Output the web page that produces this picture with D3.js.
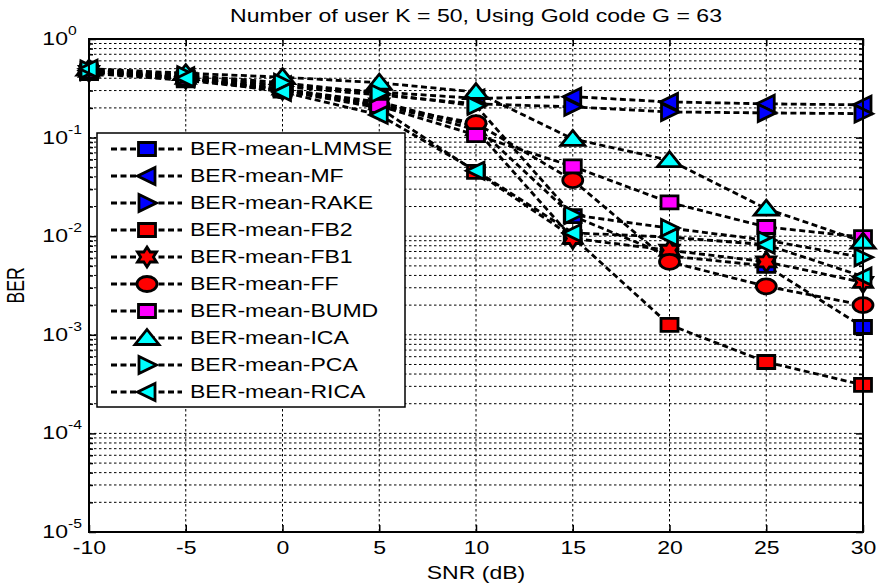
<!DOCTYPE html>
<html>
<head>
<meta charset="utf-8">
<script src="https://cdn.jsdelivr.net/npm/d3@7"></script>
<style>
  html, body { margin: 0; padding: 0; background: #fff; }
  svg { display: block; font-family: "Liberation Sans", Arial, Helvetica, sans-serif; }
</style>
</head>
<body>
<svg id="chart" width="886" height="584"></svg>
<script>
// SNR values (dB) and mean BER per receiver
const snr = [-10, -5, 0, 5, 10, 15, 20, 25, 30];
const berLMMSE = [0.46, 0.40, 0.31, 0.23, 0.13, 0.016, 0.0063, 0.0050, 0.0012];
const berMF    = [0.48, 0.42, 0.34, 0.29, 0.25, 0.26, 0.23, 0.22, 0.215];
const berRAKE  = [0.47, 0.41, 0.33, 0.27, 0.22, 0.205, 0.182, 0.178, 0.175];
const berFB2   = [0.45, 0.38, 0.30, 0.20, 0.045, 0.0098, 0.00126, 0.00053, 0.00031];
const berFB1   = [0.47, 0.40, 0.31, 0.22, 0.12, 0.0095, 0.0072, 0.0055, 0.0034];
const berFF    = [0.46, 0.40, 0.30, 0.21, 0.14, 0.037, 0.0055, 0.0031, 0.0020];
const berBUMD  = [0.47, 0.40, 0.31, 0.21, 0.106, 0.051, 0.022, 0.0124, 0.0098];
const berICA   = [0.50, 0.45, 0.41, 0.36, 0.29, 0.097, 0.059, 0.019, 0.0088];
const berPCA   = [0.49, 0.43, 0.36, 0.28, 0.21, 0.0164, 0.0121, 0.0091, 0.0061];
const berRICA  = [0.50, 0.40, 0.29, 0.17, 0.046, 0.0108, 0.0098, 0.0082, 0.0039];

const seriesNames = ["BER-mean-LMMSE", "BER-mean-MF", "BER-mean-RAKE", "BER-mean-FB2", "BER-mean-FB1",
                     "BER-mean-FF", "BER-mean-BUMD", "BER-mean-ICA", "BER-mean-PCA", "BER-mean-RICA"];
const xTickValues = [-10, -5, 0, 5, 10, 15, 20, 25, 30];
const yDecades = [-5, -4, -3, -2, -1, 0];

const titleText = "Number of user K = 50, Using Gold code G = 63";
const xLabel = "SNR (dB)";
const yLabel = "BER";

// styles per series
const styles = [
  { color: "#0000ff", shape: "square" },
  { color: "#0000ff", shape: "left" },
  { color: "#0000ff", shape: "right" },
  { color: "#ff0000", shape: "square" },
  { color: "#ff0000", shape: "hexagram" },
  { color: "#ff0000", shape: "ellipse" },
  { color: "#ff00ff", shape: "square" },
  { color: "#00ffff", shape: "up" },
  { color: "#00ffff", shape: "right" },
  { color: "#00ffff", shape: "left" }
];
const seriesValues = [berLMMSE, berMF, berRAKE, berFB2, berFB1, berFF, berBUMD, berICA, berPCA, berRICA];
const series = seriesNames.map((name, i) => ({
  name, values: seriesValues[i], ...styles[i]
}));

const svg = d3.select("#chart");
const pLeft = 89, pRight = 863, pTop = 39, pBottom = 532;
const SX = 1.31; // horizontal text stretch
const FS = 17.6;

const x = d3.scaleLinear().domain([-10, 30]).range([pLeft, pRight]);
const y = d3.scaleLog().domain([1e-5, 1]).range([pBottom, pTop]);

// ---- grid ----
const grid = svg.append("g").attr("stroke", "#000").attr("stroke-width", 1)
  .attr("stroke-dasharray", "2.5,2.5").attr("fill", "none");
const minorVals = [];
yDecades.slice(0, -1).forEach(k => {
  for (let m = 1; m <= 9; m++) minorVals.push(m * Math.pow(10, k));
});
minorVals.push(1);
minorVals.forEach(v => {
  grid.append("line").attr("x1", pLeft).attr("x2", pRight)
    .attr("y1", y(v)).attr("y2", y(v));
});
xTickValues.forEach(v => {
  grid.append("line").attr("x1", x(v)).attr("x2", x(v))
    .attr("y1", pTop).attr("y2", pBottom);
});

// ---- axes ticks ----
function styleAxis(g) {
  g.select(".domain").remove();
  g.selectAll("line").attr("stroke", "#000").attr("stroke-width", 1.5);
}
svg.append("g").attr("transform", `translate(0,${pBottom})`)
  .call(d3.axisBottom(x).tickValues(xTickValues).tickSizeInner(-7).tickSizeOuter(0).tickPadding(10)
    .tickFormat(d => String(d)))
  .call(styleAxis)
  .call(g => g.selectAll("text")
    .attr("font-size", FS).attr("fill", "#000")
    .attr("font-family", "Liberation Sans, Arial, sans-serif")
    .attr("transform", `scale(${SX},1)`));
svg.append("g").attr("transform", `translate(0,${pTop})`)
  .call(d3.axisTop(x).tickValues(xTickValues).tickSizeInner(-7).tickSizeOuter(0).tickFormat(""))
  .call(styleAxis);
const decadeVals = yDecades.map(k => Math.pow(10, k));
const minorOnly = minorVals.filter(v => !decadeVals.some(d => Math.abs(d - v) / d < 1e-9));
svg.append("g").attr("transform", `translate(${pLeft},0)`)
  .call(d3.axisLeft(y).tickValues(decadeVals).tickSizeInner(-7).tickSizeOuter(0).tickFormat(""))
  .call(styleAxis);
svg.append("g").attr("transform", `translate(${pLeft},0)`)
  .call(d3.axisLeft(y).tickValues(minorOnly).tickSizeInner(-4).tickSizeOuter(0).tickFormat(""))
  .call(styleAxis);
svg.append("g").attr("transform", `translate(${pRight},0)`)
  .call(d3.axisRight(y).tickValues(decadeVals).tickSizeInner(-7).tickSizeOuter(0).tickFormat(""))
  .call(styleAxis);
svg.append("g").attr("transform", `translate(${pRight},0)`)
  .call(d3.axisRight(y).tickValues(minorOnly).tickSizeInner(-4).tickSizeOuter(0).tickFormat(""))
  .call(styleAxis);

// y tick labels 10^k
yDecades.forEach(k => {
  const g = svg.append("g")
    .attr("transform", `translate(${pLeft - 21},${y(Math.pow(10, k)) + 6}) scale(${SX},1)`);
  g.append("text").attr("text-anchor", "end").attr("font-size", FS).attr("fill", "#000").text("10");
  g.append("text").attr("x", 0).attr("y", -10).attr("font-size", 12).attr("fill", "#000").text(String(k));
});

// ---- series ----
function markerPath(shape) {
  switch (shape) {
    case "square": return "M-8.5,-6.5H8.5V6.5H-8.5Z";
    case "up": return "M0,-8.5L12,6.5L-12,6.5Z";
    case "left": return "M-9.5,0L8,-8.5L8,8.5Z";
    case "right": return "M9.5,0L-8,-8.5L-8,8.5Z";
    case "ellipse": return "M-10,0A10,7.5 0 1,0 10,0A10,7.5 0 1,0 -10,0Z";
    case "hexagram": {
      const R = 10, r = R / Math.sqrt(3);
      const pts = [];
      for (let i = 0; i < 12; i++) {
        const a = -Math.PI / 2 + i * Math.PI / 6;
        const rad = i % 2 === 0 ? R : r;
        pts.push([rad * Math.cos(a) * 1.1, rad * Math.sin(a)]);
      }
      return "M" + pts.map(p => p[0].toFixed(2) + "," + p[1].toFixed(2)).join("L") + "Z";
    }
  }
}

const line = d3.line().x(d => x(d[0])).y(d => y(d[1]));
const plot = svg.append("g");
series.forEach(s => {
  const pts = snr.map((v, i) => [v, s.values[i]]);
  const g = plot.append("g");
  g.append("path").attr("d", line(pts)).attr("fill", "none")
    .attr("stroke", "#000").attr("stroke-width", 2.8).attr("stroke-dasharray", "6,3.5");
  g.selectAll("path.mk").data(pts).join("path").attr("class", "mk")
    .attr("d", markerPath(s.shape))
    .attr("transform", d => `translate(${x(d[0])},${y(d[1])})`)
    .attr("fill", s.color).attr("stroke", "#000").attr("stroke-width", 2.8)
    .attr("stroke-linejoin", "miter");
});

// ---- box ----
svg.append("rect").attr("x", pLeft).attr("y", pTop).attr("width", pRight - pLeft).attr("height", pBottom - pTop)
  .attr("fill", "none").attr("stroke", "#000").attr("stroke-width", 2);

// ---- legend ----
const lg = svg.append("g");
lg.append("rect").attr("x", 97).attr("y", 133).attr("width", 308).attr("height", 274)
  .attr("fill", "#fff").attr("stroke", "#000").attr("stroke-width", 1.5);
series.forEach((s, i) => {
  const cy = 149 + i * 27;
  lg.append("line").attr("x1", 111).attr("x2", 182).attr("y1", cy).attr("y2", cy)
    .attr("stroke", "#000").attr("stroke-width", 2.8).attr("stroke-dasharray", "6,3.5");
  lg.append("path").attr("d", markerPath(s.shape)).attr("transform", `translate(147,${cy})`)
    .attr("fill", s.color).attr("stroke", "#000").attr("stroke-width", 2.8);
  lg.append("g").attr("transform", `translate(190,${cy + 6}) scale(${SX},1)`)
    .append("text").attr("font-size", FS).attr("fill", "#000").text(s.name);
});

// ---- titles ----
svg.append("g").attr("transform", `translate(${(pLeft + pRight) / 2},${22}) scale(${SX},1)`)
  .append("text").attr("text-anchor", "middle").attr("font-size", FS).attr("fill", "#000").text(titleText);
svg.append("g").attr("transform", `translate(${(pLeft + pRight) / 2},${579}) scale(${SX},1)`)
  .append("text").attr("text-anchor", "middle").attr("font-size", FS).attr("fill", "#000").text(xLabel);
svg.append("g").attr("transform", `translate(24,${(pTop + pBottom) / 2}) scale(${SX},1) rotate(-90)`)
  .append("text").attr("text-anchor", "middle").attr("font-size", FS).attr("fill", "#000").text(yLabel);
</script>
</body>
</html>
